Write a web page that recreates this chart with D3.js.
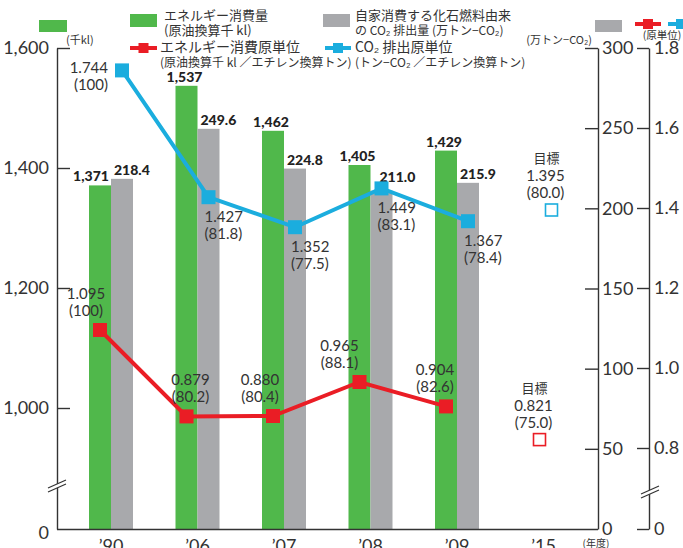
<!DOCTYPE html>
<html>
<head>
<meta charset="utf-8">
<script src="https://cdn.jsdelivr.net/npm/d3@7"></script>
<style>
  body { margin: 0; background: #fff; }
  text { fill: #333; }
  .jp { font-family: "Noto Sans CJK JP", sans-serif; }
  .num { font-family: Lato, "Noto Sans", sans-serif; }
  .axis path, .axis line { stroke: #333; stroke-width: 1.4; }
  .axis text { font-family: Lato, sans-serif; font-size: 18px; fill: #333; }
</style>
</head>
<body>
<svg width="683" height="548"></svg>
<script>
// data
var years = ["’90", "’06", "’07", "’08", "’09", "’15"];
var energyUse = [1371, 1537, 1462, 1405, 1429];          // 千kl
var co2Emission = [218.4, 249.6, 224.8, 211.0, 215.9];    // 万トン-CO2
var energyIntensity = [1.095, 0.879, 0.880, 0.965, 0.904];
var energyIndex = [100, 80.2, 80.4, 88.1, 82.6];
var co2Intensity = [1.744, 1.427, 1.352, 1.449, 1.367];
var co2Index = [100, 81.8, 77.5, 83.1, 78.4];
var energyTarget = [0.821, 75.0];
var co2Target = [1.395, 80.0];
var leftTicks = [0, 1000, 1200, 1400, 1600];
var co2Ticks = [0, 50, 100, 150, 200, 250, 300];
var intensityTicks = [0, 0.8, 1.0, 1.2, 1.4, 1.6, 1.8];

var green = "#50b84b", gray = "#a8a9ac", red = "#ea1d25", blue = "#1badde";

var svg = d3.select("svg");

// scales (broken axes for the left and the intensity scale)
var x = d3.scalePoint().domain(years).range([111, 543.5]);
var yL = d3.scaleLinear().domain([0, 1000, 1600]).range([529, 408, 48]);
var yC = d3.scaleLinear().domain([0, 300]).range([529, 48]);
var yI = d3.scaleLinear().domain([0, 0.8, 1.8]).range([529, 448, 48]);
var barW = 22;

var fmtIdx = function(v) { return "(" + (v === 100 ? "100" : v.toFixed(1)) + ")"; };

// bars
svg.append("g").selectAll("rect")
    .data(energyUse)
  .enter().append("rect")
    .attr("x", function(d, i) { return x(years[i]) - barW; })
    .attr("y", function(d) { return yL(d); })
    .attr("width", barW)
    .attr("height", function(d) { return yL(0) - yL(d); })
    .style("fill", green);

svg.append("g").selectAll("rect")
    .data(co2Emission)
  .enter().append("rect")
    .attr("x", function(d, i) { return x(years[i]); })
    .attr("y", function(d) { return yC(d); })
    .attr("width", barW)
    .attr("height", function(d) { return yC(0) - yC(d); })
    .style("fill", gray);

// bar value labels
svg.append("g").selectAll("text")
    .data(energyUse)
  .enter().append("text")
    .attr("class", "num")
    .attr("x", function(d, i) { return x(years[i]) - barW / 2 - (i === 0 ? 9 : 2); })
    .attr("y", function(d) { return yL(d) - 4; })
    .attr("text-anchor", "middle")
    .attr("font-size", 14)
    .attr("font-weight", 900)
    .style("fill", "#222")
    .text(d3.format(","));

// the '08 label sits higher to clear the blue marker
svg.append("g").selectAll("text")
    .data(co2Emission)
  .enter().append("text")
    .attr("class", "num")
    .attr("x", function(d, i) { return x(years[i]) + (i === 3 ? 9 : 3); })
    .attr("y", function(d, i) { return yC(d) - (i === 3 ? 9 : 4); })
    .attr("font-size", 14)
    .attr("font-weight", 900)
    .style("fill", "#222")
    .text(function(d) { return d.toFixed(1); });

// axes
var axL = svg.append("g").attr("class", "axis").attr("transform", "translate(57,0)")
    .call(d3.axisLeft(yL).tickValues(leftTicks).tickSizeInner(-13).tickSizeOuter(0).tickPadding(8)
      .tickFormat(d3.format(",")));
axL.selectAll(".tick").filter(function(d) { return d === 0; }).select("line").remove();
axL.selectAll(".tick").filter(function(d) { return d === 0; }).select("text").attr("dy", "0.5em");

var axC = svg.append("g").attr("class", "axis").attr("transform", "translate(598,0)")
    .call(d3.axisRight(yC).tickValues(co2Ticks).tickSizeInner(-13).tickSizeOuter(0).tickPadding(4));
axC.selectAll(".tick").filter(function(d) { return d === 0; }).select("line").remove();

svg.append("g").attr("class", "axis").attr("transform", "translate(649,0)")
    .call(d3.axisRight(yI).tickValues(intensityTicks).tickSizeInner(-12).tickSizeOuter(0).tickPadding(5)
      .tickFormat(function(d) { return d === 0 ? "0" : d.toFixed(1); }));

// x axis line
svg.append("line")
    .attr("x1", 57).attr("x2", 598).attr("y1", 529.5).attr("y2", 529.5)
    .style("stroke", "#333").style("stroke-width", 1.6);

svg.append("g").selectAll("text")
    .data(years)
  .enter().append("text")
    .attr("class", "num")
    .attr("x", function(d) { return x(d); })
    .attr("y", 552)
    .attr("text-anchor", "middle")
    .attr("font-size", 18)
    .text(function(d) { return d; });

svg.append("text").attr("class", "jp").attr("x", 596).attr("y", 547)
    .attr("text-anchor", "middle").attr("font-size", 10).text("(年度)");

// axis breaks
function axisBreak(cx, cy) {
  var g = svg.append("g").attr("transform", "translate(" + cx + "," + cy + ")");
  g.append("polygon").attr("points", "-9,2 9,-6 9,-2 -9,6").style("fill", "#fff");
  [0, 4].forEach(function(o) {
    g.append("line").attr("x1", -9).attr("y1", o + 2).attr("x2", 9).attr("y2", o - 6)
      .style("stroke", "#333").style("stroke-width", 1.1);
  });
}
axisBreak(57, 486);
axisBreak(650, 492);

// lines
var line = d3.line();
function drawSeries(vals, dx, color) {
  var pts = vals.map(function(v, i) { return [x(years[i]) + dx, yI(v)]; });
  svg.append("path").attr("d", line(pts))
      .style("fill", "none").style("stroke", color).style("stroke-width", 4);
  svg.append("g").selectAll("rect").data(pts).enter().append("rect")
      .attr("x", function(p) { return p[0] - 7; })
      .attr("y", function(p) { return p[1] - 7; })
      .attr("width", 14).attr("height", 14)
      .style("fill", color);
  return pts;
}
var redPts = drawSeries(energyIntensity, -barW / 2, red);
var bluePts = drawSeries(co2Intensity, barW / 2, blue);

// line labels
var redDx = [-14, 4, -13, -20, -11];
redPts.forEach(function(p, i) {
  var t = svg.append("text").attr("class", "num").attr("font-size", 15).attr("text-anchor", "middle");
  t.append("tspan").attr("x", p[0] + redDx[i]).attr("y", p[1] - 31).text(energyIntensity[i].toFixed(3));
  t.append("tspan").attr("x", p[0] + redDx[i]).attr("y", p[1] - 14).text(fmtIdx(energyIndex[i]));
});
bluePts.forEach(function(p, i) {
  var first = i === 0;
  var t = svg.append("text").attr("class", "num").attr("font-size", 15)
      .attr("text-anchor", first ? "end" : "start");
  var lx = first ? p[0] - 14 : p[0] - 4;
  var ly = first ? p[1] + 3 : p[1] + 25;
  t.append("tspan").attr("x", lx).attr("y", ly).text(co2Intensity[i].toFixed(3));
  t.append("tspan").attr("x", lx).attr("y", ly + 17).text(fmtIdx(co2Index[i]));
});

// targets for '15
function drawTarget(t, dx, color) {
  var cx = x("’15") + dx, cy = yI(t[0]);
  svg.append("rect").attr("x", cx - 6).attr("y", cy - 6).attr("width", 12).attr("height", 12)
      .style("fill", "#fff").style("stroke", color).style("stroke-width", 1.6);
  svg.append("text").attr("class", "jp").attr("x", cx - 5).attr("y", cy - 47)
      .attr("text-anchor", "middle").attr("font-size", 13).text("目標");
  var tt = svg.append("text").attr("class", "num").attr("font-size", 15).attr("text-anchor", "middle");
  tt.append("tspan").attr("x", cx - 6).attr("y", cy - 29).text(t[0].toFixed(3));
  tt.append("tspan").attr("x", cx - 6).attr("y", cy - 12).text(fmtIdx(t[1]));
}
drawTarget(energyTarget, -4, red);
drawTarget(co2Target, 8, blue);

// legend & unit labels
svg.append("rect").attr("x", 39).attr("y", 20).attr("width", 28).attr("height", 12).style("fill", green);
svg.append("text").attr("class", "jp").attr("x", 66).attr("y", 44).attr("font-size", 11).text("(千kl)");
svg.append("rect").attr("x", 595).attr("y", 20).attr("width", 27).attr("height", 12).style("fill", gray);
svg.append("text").attr("class", "jp").attr("x", 592).attr("y", 44).attr("text-anchor", "end")
    .attr("font-size", 11).text("(万トン−CO₂)");
svg.append("text").attr("class", "jp").attr("x", 662).attr("y", 39).attr("text-anchor", "middle")
    .attr("font-size", 10.5).text("(原単位)");

function legendLine(x0, x1, y, color) {
  svg.append("line").attr("x1", x0).attr("x2", x1).attr("y1", y).attr("y2", y)
      .style("stroke", color).style("stroke-width", 4);
  svg.append("rect").attr("x", (x0 + x1) / 2 - 5).attr("y", y - 5).attr("width", 10).attr("height", 10)
      .style("fill", color);
}
legendLine(635, 661, 24, red);
legendLine(668, 694, 24, blue);

svg.append("rect").attr("x", 130).attr("y", 14).attr("width", 27).attr("height", 13).style("fill", green);
svg.append("rect").attr("x", 323).attr("y", 14).attr("width", 27).attr("height", 13).style("fill", gray);
legendLine(130, 157, 48, red);
legendLine(325, 351, 48, blue);

function legendText(x0, y, l1, l2, s1, s2) {
  svg.append("text").attr("class", "jp").attr("x", x0).attr("y", y).attr("font-size", s1).text(l1);
  svg.append("text").attr("class", "jp").attr("x", x0).attr("y", y + 15).attr("font-size", s2).text(l2);
}
legendText(164, 20, "エネルギー消費量", "(原油換算千 kl)", 13, 13);
legendText(355, 20, "自家消費する化石燃料由来", "の CO₂ 排出量 (万トン−CO₂)", 13, 12);
legendText(160, 52, "エネルギー消費原単位", "(原油換算千 kl ／エチレン換算トン)", 14, 12);
legendText(355, 52, "CO₂ 排出原単位", "(トン−CO₂ ／エチレン換算トン)", 14, 12);
</script>
</body>
</html>
